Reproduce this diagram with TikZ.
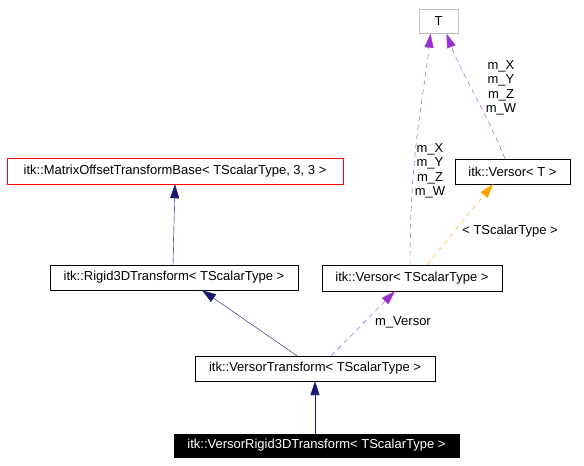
\documentclass[tikz,border=0pt]{standalone}
\usepackage{fontspec}
\setmainfont{Liberation Sans}
\usepackage{xcolor}
\definecolor{edge01}{RGB}{25,25,112}
\definecolor{edge02}{RGB}{154,50,205}
\definecolor{edge03}{RGB}{255,165,0}
\definecolor{box01}{RGB}{191,191,191}
\usetikzlibrary{arrows.meta,positioning}

\begin{document}
\begin{tikzpicture}[x=1pt,y=-1pt,
    every node/.style={font=\fontsize{13}{14.5}\selectfont, inner sep=0pt},
    cls/.style={draw=black, minimum height=25pt},
    inherit/.style={draw=edge01, -{Triangle[width=9pt,length=14pt]}},
    usage/.style={draw=edge02, dashed, dash pattern=on 5pt off 4pt, -{Triangle[width=9pt,length=14pt]}},
    templ/.style={draw=edge03, dashed, dash pattern=on 5pt off 4pt, -{Triangle[width=9pt,length=14pt]}}]
            \useasboundingbox[fill=white] (0,0) rectangle (584,466);
            \node[cls, draw=box01, minimum width=39pt, minimum height=24pt] (t) at (438.5,21.5) {T};
            \node[cls, minimum width=115pt] (vt) at (512.5,171.5) {itk::Versor< T >};
            \node[cls, draw=red, minimum width=336pt, minimum height=26pt] (mo) at (175,171) {itk::MatrixOffsetTransformBase< TScalarType, 3, 3 >};
            \node[cls, minimum width=248pt] (r3) at (174,277.5) {itk::Rigid3DTransform< TScalarType >};
            \node[cls, minimum width=180pt, minimum height=26pt] (vs) at (412,278) {itk::Versor< TScalarType >};
            \node[cls, minimum width=240pt] (vx) at (315,368.5) {itk::VersorTransform< TScalarType >};
            \node[cls, fill=black, text=white, minimum width=285pt, minimum height=23pt] (vr) at (316.5,445.5) {itk::VersorRigid3DTransform< TScalarType >};
            \draw[inherit] ([xshift=-1pt]r3.north) -- (mo.south);
            \draw[inherit] ([xshift=-18pt]vx.north) -- ([xshift=28pt]r3.south);
            \draw[inherit] ([xshift=-1.5pt]vr.north) -- (vx.south);
            \draw[usage] ([xshift=16pt]vx.north) -- ([xshift=-17pt]vs.south);
            \draw[usage] ([xshift=-2pt]vs.north) .. controls (410,150) and (424,95) .. ([xshift=-8pt]t.south);
            \draw[usage] ([xshift=-7.5pt]vt.north) .. controls (490,120) and (460,70) .. ([xshift=8pt]t.south);
            \draw[templ] ([xshift=15pt]vs.north) -- ([xshift=-19.5pt]vt.south);
            \node[align=center] (l1) at (430,171) {m\_X\\m\_Y\\m\_Z\\m\_W};
            \node[align=center] (l2) at (501,88) {m\_X\\m\_Y\\m\_Z\\m\_W};
            \node (l3) at (510,231) {< TScalarType >};
            \node (l4) at (403,322) {m\_Versor};
\end{tikzpicture}
\end{document}
